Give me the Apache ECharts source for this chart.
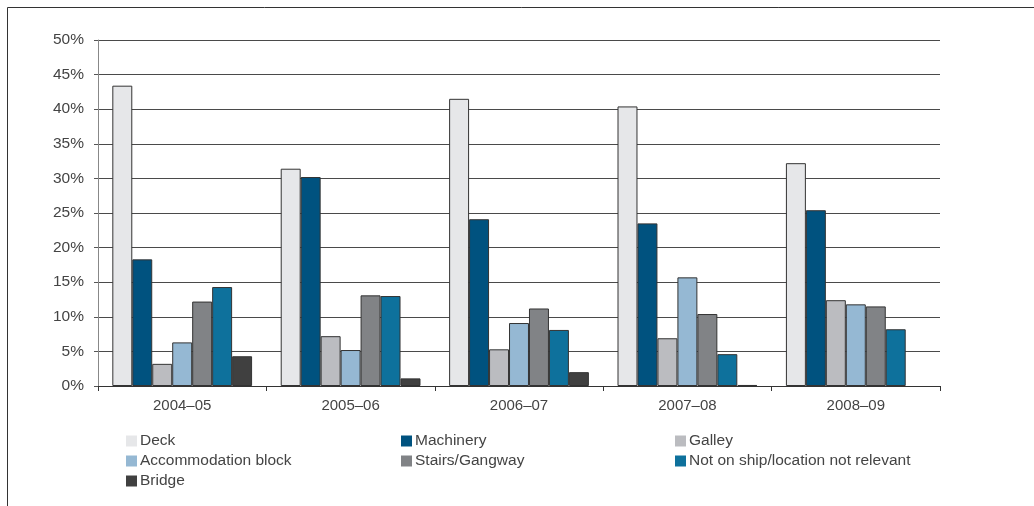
<!DOCTYPE html>
<html>
<head>
<meta charset="utf-8">
<script src="https://cdn.jsdelivr.net/npm/echarts@6/dist/echarts.min.js"></script>
<style>
  html, body { margin: 0; padding: 0; background: #fff; }
  #chart { width: 1034px; height: 506px; }
</style>
</head>
<body>
<div id="chart"></div>
<script>
// Share of incidents by location on board, per financial year (%)
const years = ['2004–05', '2005–06', '2006–07', '2007–08', '2008–09'];
const deck          = [43.4, 31.4, 41.5, 40.4, 32.2];
const machinery     = [18.3, 30.2, 24.1, 23.5, 25.4];
const galley        = [3.2, 7.2, 5.3, 6.9, 12.4];
const accommodation = [6.3, 5.2, 9.1, 15.7, 11.8];
const stairs        = [12.2, 13.1, 11.2, 10.4, 11.5];
const notOnShip     = [14.3, 13.0, 8.1, 4.6, 8.2];
const bridge        = [4.3, 1.1, 2.0, 0.15, null];
const yTicks = [0, 5, 10, 15, 20, 25, 30, 35, 40, 45, 50];

const seriesDefs = [
  { name: 'Deck', data: deck, color: '#e6e7e9' },
  { name: 'Machinery', data: machinery, color: '#00527f' },
  { name: 'Galley', data: galley, color: '#bbbcc0' },
  { name: 'Accommodation block', data: accommodation, color: '#95b8d3' },
  { name: 'Stairs/Gangway', data: stairs, color: '#818386' },
  { name: 'Not on ship/location not relevant', data: notOnShip, color: '#0e719c' },
  { name: 'Bridge', data: bridge, color: '#404040' }
];

const font = '"Liberation Sans", Arial, sans-serif';
const textColor = '#444';

const legendBase = {
  orient: 'vertical',
  top: 428,
  itemWidth: 11,
  itemHeight: 11,
  itemGap: 4,
  icon: 'rect',
  selectedMode: false,
  itemStyle: { borderWidth: 0 },
  textStyle: { fontFamily: font, fontSize: 15.5, color: textColor, padding: [0, 0, 0, -2] }
};

const chart = echarts.init(document.getElementById('chart'), null, { renderer: 'canvas' });
chart.setOption({
  animation: false,
  backgroundColor: '#fff',
  graphic: [{
    type: 'rect',
    shape: { x: 7.5, y: 7.5, width: 1200, height: 700 },
    style: { fill: 'none', stroke: '#333', lineWidth: 1 },
    silent: true
  }],
  grid: { left: 98, right: 94, top: 40, bottom: 120, containLabel: false },
  legend: [
    Object.assign({}, legendBase, { left: 121, data: ['Deck', 'Accommodation block', 'Bridge'] }),
    Object.assign({}, legendBase, { left: 396, data: ['Machinery', 'Stairs/Gangway'] }),
    Object.assign({}, legendBase, { left: 670, data: ['Galley', 'Not on ship/location not relevant'] })
  ],
  xAxis: {
    type: 'category',
    data: years,
    axisLine: { lineStyle: { color: '#333', width: 1 } },
    axisTick: { show: true, length: 5, lineStyle: { color: '#333' } },
    axisLabel: { fontFamily: font, fontSize: 15, color: textColor, margin: 12 }
  },
  yAxis: {
    type: 'value',
    min: yTicks[0],
    max: yTicks[yTicks.length - 1],
    interval: 5,
    axisLine: { show: true, lineStyle: { color: '#888', width: 1 } },
    axisTick: { show: true, length: 4, lineStyle: { color: '#555' } },
    axisLabel: { fontFamily: font, fontSize: 15.5, color: textColor, margin: 14, formatter: '{value}%' },
    splitLine: { show: true, lineStyle: { color: '#4a4a4a', width: 1 } }
  },
  series: seriesDefs.map(s => ({
    name: s.name,
    type: 'bar',
    data: s.data,
    barGap: '0%',
    barCategoryGap: '17%',
    itemStyle: { color: s.color, borderColor: '#333', borderWidth: 1 },
    emphasis: { disabled: true }
  }))
});
</script>
</body>
</html>
